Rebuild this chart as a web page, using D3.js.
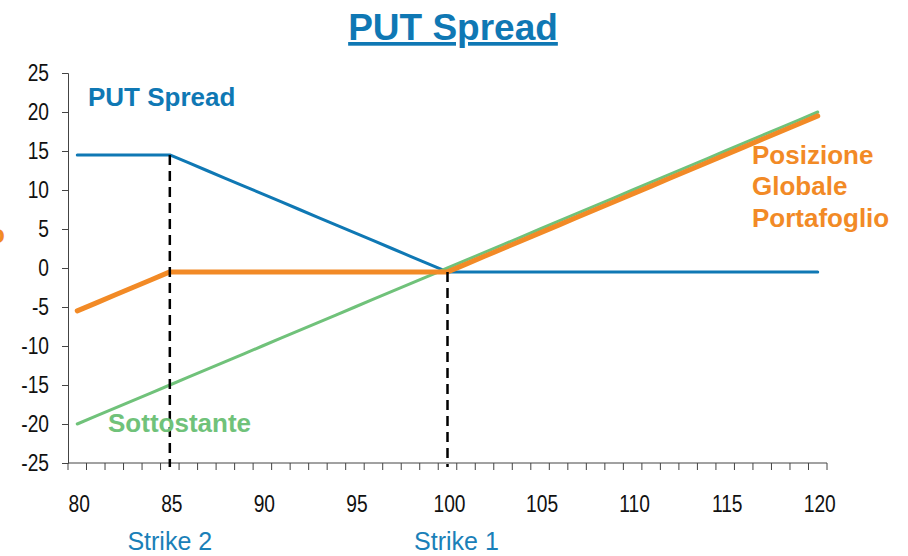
<!DOCTYPE html>
<html><head><meta charset="utf-8">
<script src="https://cdn.jsdelivr.net/npm/d3@7"></script>
<style>body{margin:0;background:#fff}svg{display:block}</style>
</head><body>
<svg id="c" width="908" height="556"></svg>
<script>
// ---- data ----
const prices = d3.range(80, 121); // 80..120
const putSpread = [14.5,14.5,14.5,14.5,14.5,14.5,13.5,12.5,11.5,10.5,9.5,8.5,7.5,6.5,5.5,4.5,3.5,2.5,1.5,0.5,-0.5,
  -0.5,-0.5,-0.5,-0.5,-0.5,-0.5,-0.5,-0.5,-0.5,-0.5,-0.5,-0.5,-0.5,-0.5,-0.5,-0.5,-0.5,-0.5,-0.5,-0.5];
const sottostante = [-20,-19,-18,-17,-16,-15,-14,-13,-12,-11,-10,-9,-8,-7,-6,-5,-4,-3,-2,-1,0,
  1,2,3,4,5,6,7,8,9,10,11,12,13,14,15,16,17,18,19,20];
const globale = [-5.5,-4.5,-3.5,-2.5,-1.5,-0.5,-0.5,-0.5,-0.5,-0.5,-0.5,-0.5,-0.5,-0.5,-0.5,-0.5,-0.5,-0.5,-0.5,-0.5,-0.5,
  0.5,1.5,2.5,3.5,4.5,5.5,6.5,7.5,8.5,9.5,10.5,11.5,12.5,13.5,14.5,15.5,16.5,17.5,18.5,19.5];
const yTicks = [-25,-20,-15,-10,-5,0,5,10,15,20,25];
const xTickLabels = [80,85,90,95,100,105,110,115,120];
const strikes = [{x:85, top:14.5, label:"Strike 2"}, {x:100, top:-0.5, label:"Strike 1"}];

const BLUE = "#0f78b4", GREEN = "#70c27a", ORANGE = "#f28a26";
const svg = d3.select("#c");
const font = "'Liberation Sans', Arial, sans-serif";

const x = d3.scaleBand().domain(prices).range([68, 827]);
const y = d3.scaleLinear().domain([-25, 25]).range([463, 73]);
const cx = v => x(v) + x.bandwidth()/2;

// condensed look for tick labels
function condense(sel, k) {
  sel.each(function() {
    const w = this.getComputedTextLength();
    d3.select(this).attr("textLength", w * k).attr("lengthAdjust", "spacingAndGlyphs");
  });
}

// title
svg.append("text").attr("x", 453).attr("y", 40).attr("text-anchor","middle")
  .attr("font-family", font).attr("font-weight","bold").attr("font-size", 37)
  .attr("fill", BLUE).attr("text-decoration","underline").text("PUT Spread");

// y axis
const yAxis = svg.append("g").attr("transform","translate(68,0)")
  .call(d3.axisLeft(y).tickValues(yTicks).tickFormat(d => String(d)).tickSize(6).tickPadding(13));
yAxis.selectAll("text").attr("font-family", font).attr("font-size", 24).attr("fill","#111").call(condense, 0.8);
yAxis.selectAll("line,path").attr("stroke","#444");

// x axis (category axis: ticks at band boundaries, labels at centers)
const xg = svg.append("g");
xg.append("line").attr("x1",68).attr("x2",827).attr("y1",463).attr("y2",463).attr("stroke","#444");
const bounds = prices.map(p => x(p)).concat([x(120)+x.bandwidth()]);
xg.selectAll("line.t").data(bounds).join("line").attr("class","t")
  .attr("x1", d=>d).attr("x2", d=>d).attr("y1",463).attr("y2",470).attr("stroke","#444");
xg.selectAll("text").data(xTickLabels).join("text")
  .attr("x", d=>cx(d)+2).attr("y", 512).attr("text-anchor","middle")
  .attr("font-family", font).attr("font-size", 24).attr("fill","#111").text(d=>d).call(condense, 0.8);

// lines
const line = d3.line().x((d,i)=>cx(prices[i])).y(d=>y(d));
svg.append("path").datum(putSpread).attr("d", line).attr("fill","none")
  .attr("stroke", BLUE).attr("stroke-width", 3).attr("stroke-linejoin","round").attr("stroke-linecap","round");
svg.append("path").datum(sottostante).attr("d", line).attr("fill","none")
  .attr("stroke", GREEN).attr("stroke-width", 3).attr("stroke-linejoin","round").attr("stroke-linecap","round");
svg.append("path").datum(globale).attr("d", line).attr("fill","none")
  .attr("stroke", ORANGE).attr("stroke-width", 5).attr("stroke-linejoin","round").attr("stroke-linecap","round");

// strike dashed lines
svg.selectAll("line.s").data(strikes).join("line").attr("class","s")
  .attr("x1", d=>cx(d.x)).attr("x2", d=>cx(d.x))
  .attr("y1", d=>y(d.top)).attr("y2", 467)
  .attr("stroke","#000").attr("stroke-width",2.5).attr("stroke-dasharray","10,6");
svg.selectAll("text.s").data(strikes).join("text").attr("class","s")
  .attr("x", (d,i)=>cx(d.x) + (i===1?9:0)).attr("y", 550).attr("text-anchor","middle")
  .attr("font-family", font).attr("font-size", 25).attr("fill", "#1a80b8").text(d=>d.label);

// series labels
const lab = (t, xx, yy, c) => svg.append("text").attr("x",xx).attr("y",yy)
  .attr("font-family", font).attr("font-weight","bold").attr("font-size",26)
  .attr("fill",c).text(t);
lab("PUT Spread", 88, 106, BLUE);
lab("Sottostante", 108, 432, GREEN);
lab("Posizione", 752, 164, ORANGE);
lab("Globale", 752, 195, ORANGE);
lab("Portafoglio", 752, 227, ORANGE);
lab("o", -11, 243, ORANGE);
</script>
</body></html>
